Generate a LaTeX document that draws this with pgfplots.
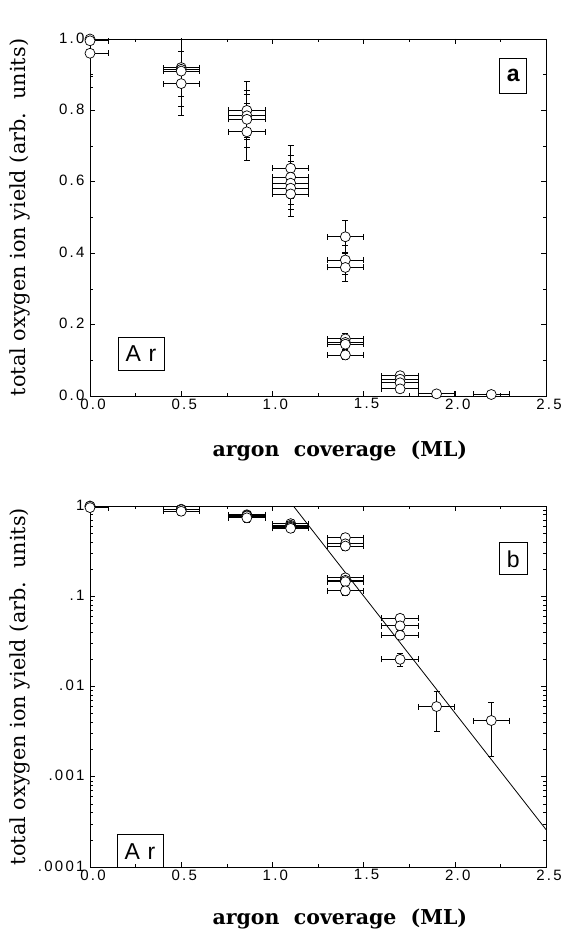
\documentclass[border=0pt]{standalone}
\usepackage{fontspec}
\setmainfont{DejaVu Serif}
\newfontfamily\tickfont[LetterSpace=15]{Liberation Sans}
\newfontfamily\boxfont{Liberation Sans}
\usepackage{pgfplots}
\usepackage{pgfplotstable}
\pgfplotsset{compat=1.18}

\pgfplotstableread{
x y ex ey
0    1.000 0.1 0.100
0    0.995 0.1 0.100
0    0.960 0.1 0.095
0.5  0.920 0.1 0.080
0.5  0.915 0.1 0.050
0.5  0.910 0.1 0.100
0.5  0.875 0.1 0.090
0.86 0.800 0.1 0.080
0.86 0.785 0.1 0.060
0.86 0.775 0.1 0.080
0.86 0.740 0.1 0.080
1.1  0.638 0.1 0.065
1.1  0.613 0.1 0.060
1.1  0.596 0.1 0.060
1.1  0.582 0.1 0.060
1.1  0.566 0.1 0.062
1.4  0.446 0.1 0.045
1.4  0.381 0.1 0.040
1.4  0.360 0.1 0.040
1.4  0.160 0.1 0.016
1.4  0.150 0.1 0.015
1.4  0.145 0.1 0.015
1.4  0.115 0.1 0.012
1.7  0.057 0.1 0.006
1.7  0.047 0.1 0.005
1.7  0.037 0.1 0.004
1.7  0.020 0.1 0.0035
1.9  0.0060 0.1 0.0028
2.2  0.0042 0.1 0.0025
}\yielddata

\pgfplotsset{
  myaxis/.style={
    scale only axis, width=456pt,
    xmin=0, xmax=2.5,
    xtick={0,0.5,1,1.5,2,2.5}, minor x tick num=1,
    xtick pos=both, ytick pos=both,
    tick align=inside,
    axis line style={line width=0.8pt},
    every tick/.style={line width=0.6pt, black},
    major tick length=5pt, minor tick length=3pt,
    tick label style={font=\tickfont\fontsize{15}{15}\selectfont},
    xticklabel style={xshift=3pt, yshift=1pt, /pgf/number format/.cd, fixed, fixed zerofill, precision=1, assume math mode=true},
    yticklabel style={xshift=-2pt, yshift=1pt},
    xlabel={\textbf{argon\ \ coverage\ \ (ML)}},
    xlabel style={font=\fontsize{20.5}{20.5}\selectfont, anchor=center},
    ylabel={total oxygen ion yield (arb.\ \ units)},
    ylabel style={font=\fontsize{20.8}{20.8}\selectfont, anchor=center, at={(axis description cs:-0.153,0.5)}},
  },
  mydata/.style={
    only marks, mark=*, mark size=5pt,
    mark options={fill=white, draw=black, line width=0.7pt},
    black,
    error bars/.cd, x dir=both, x explicit, y dir=both, y explicit,
    error bar style={line width=0.8pt, black},
    error mark options={mark size=3pt, line width=0.8pt, black, rotate=90},
  }
}

\begin{document}
\begin{tikzpicture}
\path[use as bounding box] (0,0) rectangle (561pt,932pt);

% panel a
\begin{axis}[myaxis,
  at={(90pt,536pt)}, anchor=south west, height=357pt,
  ymin=0, ymax=1,
  ytick={0,0.2,0.4,0.6,0.8,1}, minor y tick num=1,
  yticklabel style={/pgf/number format/.cd, fixed, fixed zerofill, precision=1, assume math mode=true},
  xlabel style={at={(axis description cs:0.548,-0.154)}},
]
\addplot+[mydata] table[x=x, y=y, x error=ex, y error=ey] {\yielddata};
\node[draw, line width=0.8pt, minimum width=27pt, minimum height=35pt, inner sep=0pt,
  font=\boxfont\bfseries\fontsize{23}{23}\selectfont] at (axis cs:2.32,0.898) {a};
\node[draw, line width=0.8pt, minimum width=46pt, minimum height=33pt, inner sep=0pt,
  font=\boxfont\fontsize{23}{23}\selectfont] at (axis cs:0.28,0.119) {A\,\,r};
\end{axis}

% panel b
\begin{axis}[myaxis,
  at={(90pt,65pt)}, anchor=south west, height=361pt,
  ymode=log, ymin=1e-4, ymax=1,
  ytick={0.0001,0.001,0.01,0.1,1},
  yticklabels={.0001,.001,.01,.1,1},
  xlabel style={at={(axis description cs:0.548,-0.144)}},
]
\addplot+[mydata] table[x=x, y=y, x error=ex, y error=ey] {\yielddata};
\addplot[no marks, black, line width=0.8pt] coordinates {(1.115,1) (2.5,0.00026)};
\node[draw, line width=0.8pt, minimum width=28pt, minimum height=32pt, inner sep=0pt,
  font=\boxfont\fontsize{23}{23}\selectfont] at (axis cs:2.32,0.26) {b};
\node[draw, line width=0.8pt, minimum width=46pt, minimum height=33pt, inner sep=0pt,
  font=\boxfont\fontsize{23}{23}\selectfont] at (axis cs:0.274,0.00015) {A\,\,r};
\end{axis}
\end{tikzpicture}
\end{document}
